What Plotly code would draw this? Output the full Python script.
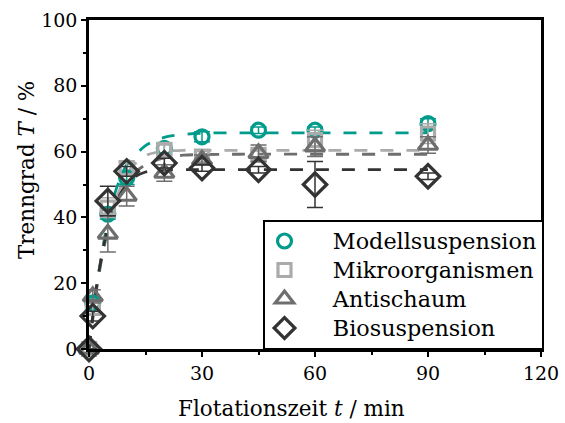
import plotly.graph_objects as go

# Measured data
t = [0, 1, 5, 10, 20, 30, 45, 60, 90]
modell = [0, 14, 41, 52, 61, 64.5, 66.5, 66.5, 68.5]
modell_err = [0, 1.5, 1.5, 2, 1.5, 1.5, 1, 1, 1.5]
mikro = [0, 12.5, 43, 55, 60.5, 58.5, 59, 63.5, 65.5]
mikro_err = [0, 2, 3, 2, 1.5, 1.5, 1.5, 3, 3]
anti = [0, 16, 35, 46.5, 53.5, 57.5, 59.5, 61.5, 62]
anti_err = [0, 2, 5.5, 3, 2.5, 1.5, 2.5, 3, 2.5]
bio = [0, 10, 45, 54, 56.5, 55, 54.5, 50, 52.5]
bio_err = [0, 1.5, 4.5, 1.5, 1.5, 1, 1, 7, 1]

# Fit curves
t_fit = [0, 1, 2, 3, 4, 5, 6, 8, 10, 12, 15, 18, 21, 25, 30, 40, 60, 90]
modell_fit = [0, 10, 19, 26, 33, 39, 44, 51, 56, 58.5, 61.8, 63.5, 64.6, 65.2, 65.6, 65.7, 65.7, 65.7]
mikro_fit = [0, 10, 19, 26, 32, 37, 41.5, 48, 53, 56, 58.8, 59.8, 60.2, 60.4, 60.4, 60.4, 60.4, 60.4]
anti_fit = [0, 9, 18, 25, 31, 36, 40, 46, 50.5, 53.5, 56, 57.5, 58.3, 58.9, 59.1, 59.2, 59.2, 59.2]
bio_fit = [0, 10, 19, 26, 32, 37, 41, 46.5, 50, 52.2, 53.8, 54.3, 54.4, 54.5, 54.5, 54.5, 54.5, 54.5]

names = ["Modellsuspension", "Mikroorganismen", "Antischaum", "Biosuspension"]
colors = ["#009B8A", "#ABABAB", "#6E6E6E", "#333333"]
symbols = ["circle-open", "square-open", "triangle-up-open", "diamond-open"]
sizes = [14, 13, 17, 18]
series = [(modell, modell_err, modell_fit), (mikro, mikro_err, mikro_fit),
          (anti, anti_err, anti_fit), (bio, bio_err, bio_fit)]

FONT = "DejaVu Serif"
fig = go.Figure()

for (y, e, yf), c in zip(series, colors):
    fig.add_trace(go.Scatter(x=t_fit, y=yf, mode="lines", showlegend=False,
                             line=dict(color=c, width=2.8, dash="13px,13px", shape="spline"),
                             hoverinfo="skip"))

for (y, e, yf), n, c, s, sz in zip(series, names, colors, symbols, sizes):
    label = "<span style='font-size:22.3px'>&nbsp;&nbsp;&nbsp;&nbsp;" + n + "</span>"
    fig.add_trace(go.Scatter(x=t, y=y, mode="markers", name=label,
                             cliponaxis=False,
                             marker=dict(symbol=s, size=sz, color=c, line=dict(color=c, width=3.2)),
                             error_y=dict(type="data", array=e, color=c, thickness=1.5, width=8)))

axis_common = dict(showline=True, linecolor="black", linewidth=2.5, mirror=True,
                   ticks="outside", ticklen=5, tickwidth=2, tickcolor="black",
                   showgrid=False, zeroline=False, automargin=False,
                   tickfont=dict(family=FONT, size=19, color="black"),
                   minor=dict(ticks="outside", ticklen=3, tickwidth=2, tickcolor="black"))

fig.update_xaxes(range=[0, 120], tickvals=[0, 30, 60, 90, 120], **axis_common)
fig.update_xaxes(minor=dict(tickvals=[15, 45, 75, 105]))
fig.update_yaxes(range=[0, 100], tickvals=[0, 20, 40, 60, 80, 100], **axis_common)
fig.update_yaxes(minor=dict(tickvals=[10, 30, 50, 70, 90]))

fig.add_annotation(text="Flotationszeit <i>t</i> / min", xref="paper", yref="paper",
                   x=(291 - 89) / 452, y=-(408 - 349) / 329, xanchor="center", yanchor="middle",
                   showarrow=False, font=dict(family=FONT, size=21.5, color="black"))
fig.add_annotation(text="Trenngrad <i>T</i> / %", xref="paper", yref="paper",
                   x=-(89 - 26) / 452, y=(349 - 170) / 329, xanchor="center", yanchor="middle",
                   textangle=-90, showarrow=False, font=dict(family=FONT, size=21.5, color="black"))

fig.update_layout(
    width=565, height=423,
    margin=dict(l=89, r=24, t=20, b=74, autoexpand=False),
    plot_bgcolor="white", paper_bgcolor="white",
    font=dict(family=FONT, color="black"),
    legend=dict(x=(263 - 89) / 452, y=0, xanchor="left", yanchor="bottom",
                bordercolor="black", borderwidth=1.5, bgcolor="white",
                font=dict(family=FONT, size=20, color="black"),
                itemwidth=30),
)

fig.write_html("out.html")
